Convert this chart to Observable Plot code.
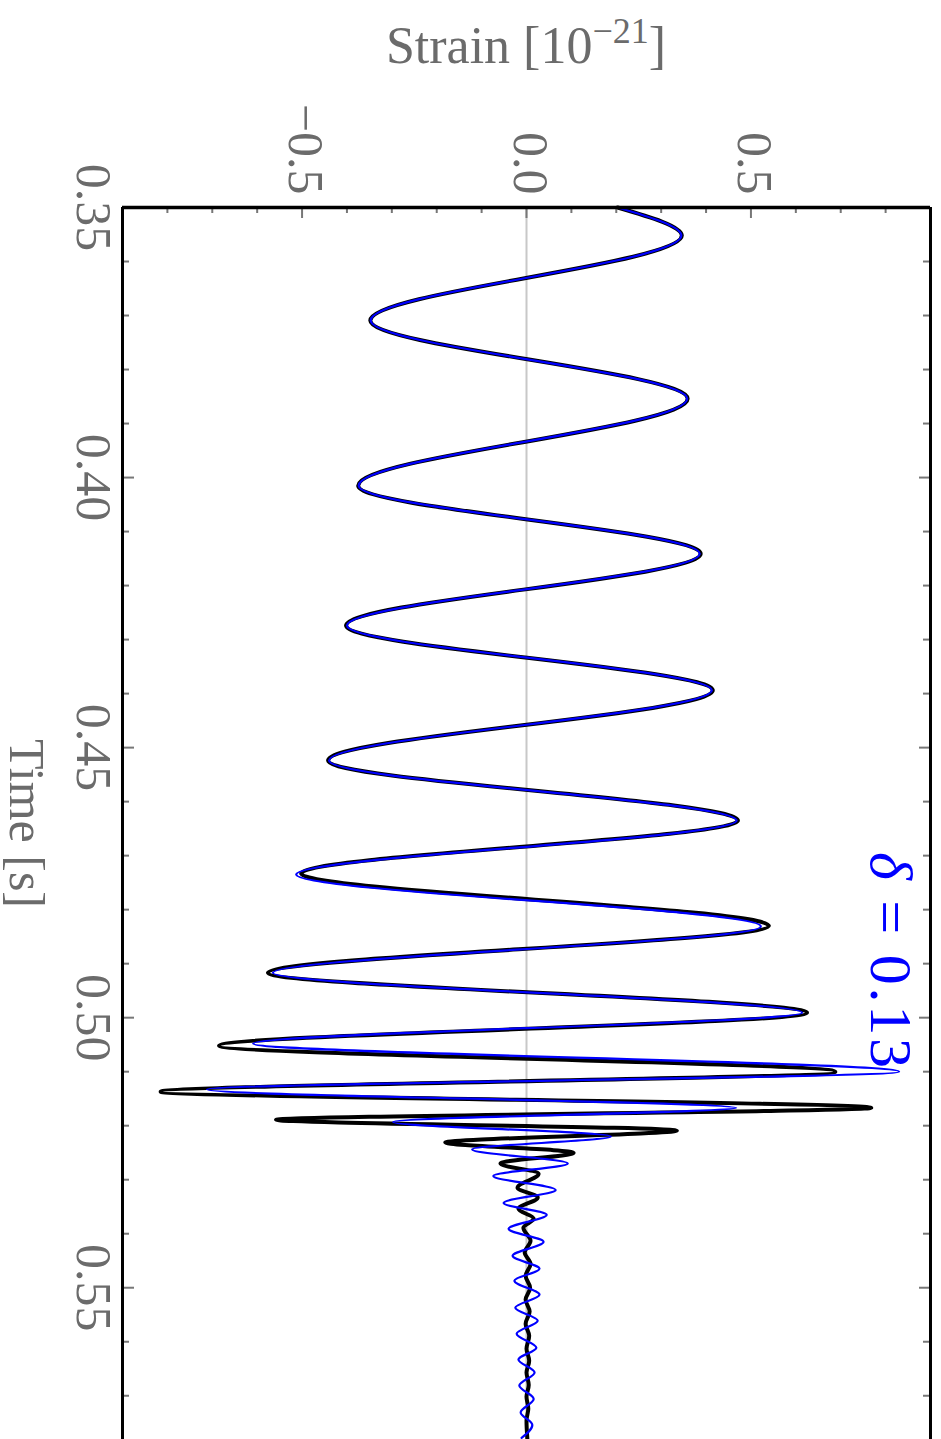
<!DOCTYPE html>
<html><head><meta charset="utf-8">
<script src="https://cdn.jsdelivr.net/npm/d3@7"></script>
<script src="https://cdn.jsdelivr.net/npm/@observablehq/plot@0.6"></script>
<style>html,body{margin:0;padding:0;background:#fff;overflow:hidden}</style>
</head><body><div id="chart"></div>
<script>
// ---- data ----
const blackTime = [0.3500,0.3552,0.3709,0.3854,0.4015,0.4141,0.4274,0.4394,0.4524,0.4635,0.4733,0.4830,0.4917,0.4991,0.5052,0.5100,0.5137,0.5167,0.5189,0.5209,0.5231,0.5250,0.5270,0.5289,0.5315,0.5333,0.5354,0.5372,0.5389,0.5413,0.5435,0.5456,0.5478,0.5500,0.5522,0.5544,0.5567,0.5589,0.5613,0.5635,0.5657,0.5680,0.5702,0.5724,0.5746,0.5781];
const blackStrain = [0.203,0.346,-0.348,0.359,-0.375,0.388,-0.402,0.415,-0.442,0.471,-0.502,0.540,-0.576,0.625,-0.685,0.688,-0.815,0.768,-0.558,0.335,-0.181,0.105,-0.058,0.027,-0.020,0.025,-0.018,0.016,-0.007,0.009,-0.004,0.009,-0.002,0.008,-0.002,0.007,-0.002,0.006,0.000,0.006,0.000,0.005,0.000,0.004,0.000,0.002];
const blueTime = [0.3500,0.3552,0.3709,0.3854,0.4015,0.4141,0.4274,0.4394,0.4524,0.4635,0.4735,0.4831,0.4917,0.4991,0.5048,0.5100,0.5133,0.5167,0.5193,0.5220,0.5244,0.5270,0.5293,0.5319,0.5343,0.5365,0.5391,0.5415,0.5441,0.5465,0.5487,0.5513,0.5537,0.5561,0.5585,0.5611,0.5633,0.5657,0.5681,0.5706,0.5731,0.5754,0.5778];
const blueStrain = [0.203,0.345,-0.347,0.358,-0.374,0.386,-0.400,0.413,-0.440,0.468,-0.513,0.522,-0.565,0.614,-0.609,0.830,-0.712,0.467,-0.297,0.188,-0.121,0.092,-0.074,0.065,-0.051,0.045,-0.040,0.038,-0.031,0.029,-0.027,0.029,-0.025,0.025,-0.022,0.022,-0.018,0.018,-0.016,0.016,-0.013,0.013,-0.011];

const timeTicks = [0.35,0.40,0.45,0.50,0.55];
const timeTickLabels = ["0.35","0.40","0.45","0.50","0.55"];
const timeMinor = [0.36,0.37,0.38,0.39,0.41,0.42,0.43,0.44,0.46,0.47,0.48,0.49,0.51,0.52,0.53,0.54,0.56,0.57];
const strainTicks = [-0.5,0,0.5];
const strainTickLabels = ["\u22120.5","0.0","0.5"];
const strainMinor = [-0.8,-0.7,-0.6,-0.4,-0.3,-0.2,-0.1,0.1,0.2,0.3,0.4,0.6,0.7,0.8];

const xDomain = [-0.9, 0.9];
const yDomain = [0.35, 0.5781];
const deltaLabel = "0.13";
const deltaPos = {s: 0.815, t: 0.4894};

// ---- build ----
const black = blackTime.map((t,i)=>({t, s: blackStrain[i]}));
const blue = blueTime.map((t,i)=>({t, s: blueStrain[i]}));

const W = 941, H = 1439, mL = 122, mR = 11, mT = 207, mB = 0;
const pw = W - mL - mR;
const ph = H - mT - mB;
const gray = "#6b6b6b";
const tickGray = "#777";
const font = "Liberation Serif, Times New Roman, serif";

const chart = Plot.plot({
  width: W, height: H,
  marginLeft: mL, marginRight: mR, marginTop: mT, marginBottom: mB,
  style: {background: "#fff", overflow: "visible", fontFamily: font},
  x: {domain: xDomain, axis: null},
  y: {domain: yDomain, reverse: true, axis: null},
  marks: [
    Plot.ruleX([0], {stroke: "#c8c8c8", strokeWidth: 2}),
    Plot.line(black, {x: "s", y: "t", curve: "monotone-y", stroke: "#000", strokeWidth: 4}),
    Plot.line(blue, {x: "s", y: "t", curve: "monotone-y", stroke: "#0000ff", strokeWidth: 2.2}),
    // inward ticks: left
    Plot.ruleY(timeTicks, {y: d=>d, insetRight: pw - 12, stroke: tickGray, strokeWidth: 2}),
    Plot.ruleY(timeMinor, {y: d=>d, insetRight: pw - 7, stroke: tickGray, strokeWidth: 2}),
    // right
    Plot.ruleY(timeTicks, {y: d=>d, insetLeft: pw - 11, stroke: tickGray, strokeWidth: 2}),
    Plot.ruleY(timeMinor, {y: d=>d, insetLeft: pw - 7, stroke: tickGray, strokeWidth: 2}),
    // top
    Plot.ruleX(strainTicks, {x: d=>d, insetBottom: ph - 11, stroke: tickGray, strokeWidth: 2}),
    Plot.ruleX(strainMinor, {x: d=>d, insetBottom: ph - 6, stroke: tickGray, strokeWidth: 2}),
    // frame (left, right, top)
    Plot.ruleX(xDomain, {stroke: "#000", strokeWidth: 3}),
    Plot.ruleY([yDomain[0]], {stroke: "#000", strokeWidth: 3.5}),
    // tick labels
    Plot.text(strainTicks, {x: d=>d, text: (d,i)=>strainTickLabels[i], frameAnchor: "top", dy: -13, dx: 3,
      rotate: 90, textAnchor: "end", lineAnchor: "middle", fontSize: 50, fill: gray, fontFamily: font}),
    Plot.text(timeTicks, {y: d=>d, text: (d,i)=>timeTickLabels[i], frameAnchor: "left", dx: -30,
      rotate: 90, textAnchor: "middle", lineAnchor: "middle", fontSize: 50, fill: gray, fontFamily: font}),
    Plot.text(["Time [s]"], {frameAnchor: "left", dx: -97, rotate: 90, textAnchor: "middle",
      lineAnchor: "middle", fontSize: 50, fill: gray, fontFamily: font})
  ]
});
document.getElementById("chart").appendChild(chart);

const svg = d3.select(chart);
const sx = chart.scale("x"), sy = chart.scale("y");

// strain axis title (horizontal, above)
const title = svg.append("text")
  .attr("x", sx.apply(0)).attr("y", 63)
  .attr("text-anchor", "middle")
  .attr("font-family", font).attr("font-size", 52).attr("fill", gray);
title.append("tspan").text("Strain [10");
title.append("tspan").attr("font-size", 36).attr("dy", -20).text("\u221221");
title.append("tspan").attr("font-size", 52).attr("dy", 20).text("]");

// delta annotation (rotated, blue)
const dl = svg.append("text")
  .attr("transform", `translate(${sx.apply(deltaPos.s)},${sy.apply(deltaPos.t)}) rotate(90)`)
  .attr("text-anchor", "middle").attr("dy", "0.35em")
  .attr("font-family", font).attr("font-size", 60).attr("fill", "#0000ff")
  .attr("textLength", 216).attr("lengthAdjust", "spacing");
dl.append("tspan").attr("font-style", "italic").text("\u03b4");
dl.append("tspan").text(" = " + deltaLabel);
</script>
</body></html>
